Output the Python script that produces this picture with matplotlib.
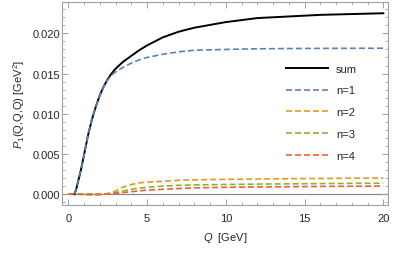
import numpy as np
import matplotlib
matplotlib.use("Agg")
import matplotlib.pyplot as plt
from matplotlib.ticker import MultipleLocator

# -------------------- DATA --------------------
q = [0, 0.4, 0.5, 0.6, 0.8, 1.0, 1.25, 1.5, 1.75, 2.0, 2.25, 2.5, 2.75,
     3.0, 3.5, 4.0, 4.5, 5.0, 6.0, 7.0, 8.0, 10.0, 12.0, 14.0, 16.0, 18.0, 20.0]

p_sum = [np.nan, 0, 0.0006, 0.0014, 0.0030, 0.0049, 0.0073, 0.0093, 0.0109,
         0.0123, 0.0134, 0.0143, 0.0150, 0.0156, 0.0165, 0.0172, 0.0179,
         0.0185, 0.0195, 0.0202, 0.0207, 0.0214, 0.0219, 0.0221, 0.0223,
         0.0224, 0.0225]

p_n1 = [np.nan, 0, 0.0006, 0.0014, 0.0030, 0.0049, 0.0073, 0.0093, 0.0109,
        0.0123, 0.0134, 0.0142, 0.0148, 0.0152, 0.0158, 0.0163, 0.0167,
        0.0170, 0.0174, 0.0177, 0.0179, 0.0180, 0.01808, 0.01811, 0.01813,
        0.01814, 0.01815]

p_n2 = [0, 0, 0, 0, -0.00003, -0.00006, -0.0001, -0.0001, -0.0001, -0.00008,
        0, 0.00008, 0.0002, 0.0004, 0.0009, 0.0012, 0.0014, 0.0015, 0.0016,
        0.00172, 0.00178, 0.00184, 0.00188, 0.00192, 0.00195, 0.00198, 0.0020]

p_n3 = [0, 0, 0, 0, 0, 0, 0, -0.00002, -0.00003, -0.00003, 0, 0.00004,
        0.0001, 0.0002, 0.0004, 0.0006, 0.00075, 0.00085, 0.0010, 0.0011,
        0.00115, 0.0012, 0.00125, 0.00128, 0.00131, 0.00134, 0.00136]

p_n4 = [0, 0, 0, 0, 0, 0, 0, 0, 0, 0, 0, 0.00002, 0.00005, 0.0001, 0.0002,
        0.0003, 0.0004, 0.0005, 0.0006, 0.0007, 0.00078, 0.00085, 0.0009,
        0.00093, 0.00096, 0.00098, 0.0010]

labels = ["sum", "n=1", "n=2", "n=3", "n=4"]
colors = ["black", "#5E81B5", "#E19C24", "#8FB032", "#EB6235"]

# -------------------- PLOT --------------------
plt.rcParams["font.family"] = ["Liberation Sans", "DejaVu Sans"]
plt.rcParams["mathtext.fontset"] = "custom"
plt.rcParams["mathtext.it"] = "Liberation Sans:italic"
plt.rcParams["mathtext.rm"] = "Liberation Sans"

fig = plt.figure(figsize=(3.95, 2.55), dpi=100)
ax = fig.add_axes([62 / 395, 49 / 255, 326 / 395, 203 / 255])

ax.axhline(0, color="#888888", lw=0.9, zorder=1)

series = [p_sum, p_n1, p_n2, p_n3, p_n4]
for i, (vals, lab, col) in enumerate(zip(series, labels, colors)):
    if i == 0:
        ax.plot(q, vals, color=col, lw=1.4, label=lab, zorder=3)
    else:
        ax.plot(q, vals, color=col, lw=1.2, dashes=(3.6, 1.8), label=lab,
                zorder=4 if i == 1 else 2)

ax.set_xlim(-0.4, 20.3)
ax.set_ylim(-0.00135, 0.0239)

ax.xaxis.set_major_locator(MultipleLocator(5))
ax.xaxis.set_minor_locator(MultipleLocator(1))
ax.yaxis.set_major_locator(MultipleLocator(0.005))
ax.yaxis.set_minor_locator(MultipleLocator(0.001))
ax.yaxis.set_major_formatter(plt.FuncFormatter(lambda v, p: f"{v:.3f}"))

for s in ax.spines.values():
    s.set_color("#a0a0a0")
    s.set_linewidth(0.8)

ax.tick_params(which="both", direction="in", top=True, right=True,
               color="#a0a0a0", labelsize=8, labelcolor="#262626")
ax.tick_params(which="major", length=4, width=0.7)
ax.tick_params(which="minor", length=2, width=0.6)
ax.tick_params(axis="x", pad=6)
ax.tick_params(axis="y", pad=1.5)

ax.set_xlabel(r"$Q$  [GeV]", fontsize=8, color="#262626", labelpad=5)
ax.set_ylabel(r"$P_1$(Q,Q,Q) [GeV$^2$]", fontsize=8, color="#262626",
              labelpad=4)

ax.legend(loc="upper left", bbox_to_anchor=(0.687, 0.697), frameon=False,
          fontsize=8, borderpad=0, borderaxespad=0, handlelength=3.8,
          handletextpad=0.7, labelspacing=1.07, labelcolor="#262626")

fig.savefig("out.png", dpi=100)
